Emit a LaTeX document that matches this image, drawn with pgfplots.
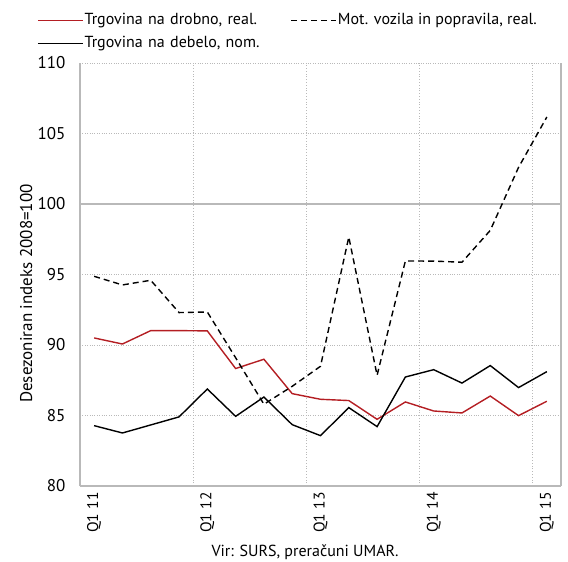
\documentclass[border=0pt]{standalone}
\usepackage{fontspec}
\setmainfont{PT Sans}
\usepackage{pgfplots}
\pgfplotsset{compat=1.18}

\definecolor{darkred}{RGB}{180,30,35}
\definecolor{gridgray}{RGB}{185,185,185}

\begin{document}
\begin{tikzpicture}
\begin{axis}[
    scale only axis,
    width=481pt, height=423pt,
    xmin=-0.5, xmax=16.5,
    ymin=80, ymax=110,
    font=\fontsize{17}{20}\selectfont,
    /pgf/number format/assume math mode=true,
    axis lines*=left,
    axis line style={gridgray, line width=1.2pt, -},
    xtick={0,4,8,12,16},
    xticklabels={Q1 11,Q1 12,Q1 13,Q1 14,Q1 15},
    minor xtick={3.5,7.5,11.5,15.5},
    ytick={80,85,...,110},
    major tick length=0pt, minor tick length=0pt,
    xminorgrids=true, ymajorgrids=true,
    grid style={gridgray, dotted, line width=0.8pt},
    minor grid style={gridgray, dotted, line width=0.8pt},
    extra x ticks={16.5},
    extra x tick labels={},
    extra x tick style={grid=major, major grid style={gridgray, solid, line width=1.2pt}},
    extra y ticks={100},
    extra y tick labels={},
    extra y tick style={grid=major, major grid style={gridgray, solid, line width=1.5pt}},
    y tick label style={font=\fontsize{17}{20}\selectfont, xshift=-11pt},
    x tick label style={font=\fontsize{15.5}{18}\selectfont, rotate=90, anchor=east, xshift=-3pt},
    ylabel={Desezoniran indeks 2008=100},
    ylabel style={font=\fontsize{17}{20}\selectfont, at={(axis description cs:-0.112,0.455)}, anchor=center},
    xlabel={Vir: SURS, preračuni UMAR.},
    xlabel style={font=\fontsize{16}{19}\selectfont, at={(axis description cs:0.468,-0.156)}, anchor=center},
    legend columns=2,
    legend cell align=left,
    legend image code/.code={\draw[#1] (0pt,0pt) -- (45pt,0pt);},
    legend style={draw=none, fill=none, at={(axis description cs:-0.0895,1.1217)}, anchor=north west,
        inner sep=0pt, row sep=5pt, font=\fontsize{16}{19}\selectfont,
        nodes={inner sep=1pt, text height=12pt, text depth=4pt},
        /tikz/column 2/.style={text width=205pt, align=left}},
]
\addplot[darkred, line width=1.4pt] coordinates {
    (0,90.5) (1,90.07) (2,91.02) (3,91.02) (4,91.0) (5,88.33) (6,88.99) (7,86.55)
    (8,86.15) (9,86.06) (10,84.73) (11,85.96) (12,85.32) (13,85.18) (14,86.38) (15,84.99) (16,86.01)
};
\addlegendentry{Trgovina na drobno, real.}
\addplot[black, line width=1.4pt, dash pattern=on 6pt off 4pt] coordinates {
    (0,94.87) (1,94.26) (2,94.59) (3,92.3) (4,92.34) (5,89.1) (6,85.8) (7,87.07)
    (8,88.49) (9,97.66) (10,87.85) (11,95.96) (12,95.95) (13,95.87) (14,98.13) (15,102.6) (16,106.17)
};
\addlegendentry{Mot. vozila in popravila, real.}
\addplot[black, line width=1.4pt] coordinates {
    (0,84.28) (1,83.76) (2,84.33) (3,84.9) (4,86.88) (5,84.94) (6,86.31) (7,84.35)
    (8,83.57) (9,85.56) (10,84.21) (11,87.73) (12,88.25) (13,87.3) (14,88.54) (15,86.98) (16,88.11)
};
\addlegendentry{Trgovina na debelo, nom.}
\end{axis}
\pgfresetboundingbox
\path (-80pt,-76pt) rectangle (488pt,486pt);
\end{tikzpicture}
\end{document}
